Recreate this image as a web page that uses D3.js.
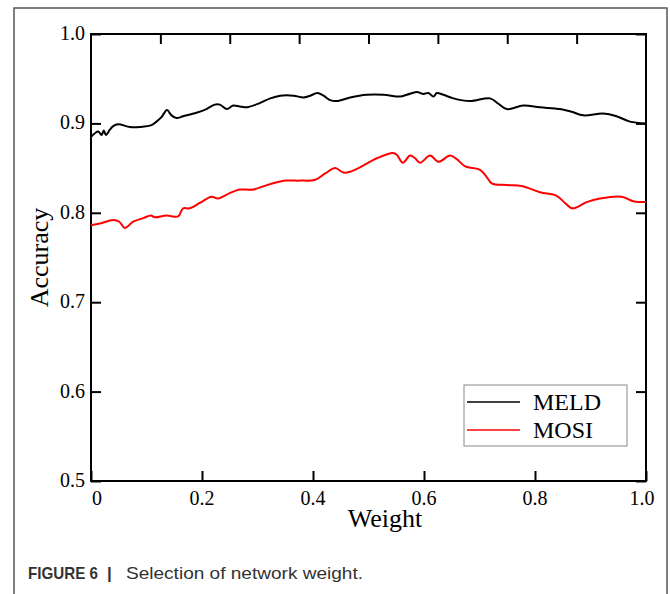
<!DOCTYPE html>
<html>
<head>
<meta charset="utf-8">
<script src="https://cdn.jsdelivr.net/npm/d3@7/dist/d3.min.js"></script>
<style>
  html, body { margin: 0; padding: 0; background: #fff; }
</style>
</head>
<body>
<div id="chart"></div>
<script>
"use strict";

// weights, accuracy per series
var meldWeight = [0.000, 0.013, 0.019, 0.023, 0.027, 0.034, 0.040, 0.049, 0.070, 0.088, 0.109, 0.118, 0.127, 0.137, 0.145, 0.154, 0.166, 0.190, 0.208, 0.223, 0.232, 0.245, 0.256, 0.268, 0.281, 0.305, 0.323, 0.341, 0.365, 0.383, 0.395, 0.408, 0.419, 0.431, 0.443, 0.467, 0.497, 0.527, 0.557, 0.569, 0.587, 0.599, 0.608, 0.617, 0.623, 0.635, 0.653, 0.683, 0.719, 0.734, 0.749, 0.779, 0.809, 0.845, 0.866, 0.887, 0.923, 0.947, 0.971, 1.000];
var meldAcc    = [0.885, 0.891, 0.887, 0.892, 0.887, 0.893, 0.897, 0.899, 0.896, 0.896, 0.898, 0.902, 0.907, 0.915, 0.909, 0.906, 0.908, 0.912, 0.916, 0.921, 0.921, 0.916, 0.920, 0.919, 0.918, 0.923, 0.928, 0.931, 0.931, 0.929, 0.931, 0.934, 0.931, 0.926, 0.925, 0.929, 0.932, 0.932, 0.930, 0.932, 0.935, 0.933, 0.934, 0.930, 0.934, 0.932, 0.928, 0.925, 0.928, 0.922, 0.916, 0.920, 0.918, 0.916, 0.913, 0.909, 0.911, 0.908, 0.902, 0.900];

var mosiWeight = [0.000, 0.016, 0.040, 0.051, 0.061, 0.076, 0.094, 0.108, 0.115, 0.136, 0.157, 0.166, 0.178, 0.196, 0.217, 0.229, 0.250, 0.268, 0.292, 0.317, 0.341, 0.353, 0.377, 0.404, 0.422, 0.440, 0.455, 0.467, 0.491, 0.515, 0.544, 0.551, 0.562, 0.575, 0.584, 0.593, 0.611, 0.626, 0.647, 0.659, 0.674, 0.701, 0.713, 0.722, 0.749, 0.776, 0.809, 0.839, 0.854, 0.868, 0.893, 0.917, 0.956, 0.977, 1.000];
var mosiAcc    = [0.786, 0.788, 0.792, 0.790, 0.783, 0.790, 0.794, 0.797, 0.795, 0.797, 0.796, 0.805, 0.805, 0.811, 0.818, 0.816, 0.822, 0.826, 0.826, 0.831, 0.835, 0.836, 0.836, 0.837, 0.844, 0.850, 0.845, 0.846, 0.853, 0.861, 0.867, 0.865, 0.856, 0.864, 0.861, 0.856, 0.864, 0.857, 0.864, 0.860, 0.852, 0.848, 0.840, 0.833, 0.831, 0.830, 0.823, 0.819, 0.811, 0.805, 0.812, 0.816, 0.818, 0.813, 0.812];

var seriesNames  = ["MELD", "MOSI"];
var seriesColors = ["#000000", "#ff0000"];
var xTicks = [0, 0.2, 0.4, 0.6, 0.8, 1.0];
var xTickLabels = ["0", "0.2", "0.4", "0.6", "0.8", "1.0"];
var xTopTicks = [0.125, 0.25, 0.375, 0.5, 0.625, 0.75, 0.875];
var yTicks = [0.5, 0.6, 0.7, 0.8, 0.9, 1.0];

(function(){

var width = 670, height = 594;
var pLeft = 91, pRight = 646, pTop = 34, pBottom = 481;
var serif = "'Liberation Serif', 'Times New Roman', serif";

var svg = d3.select("#chart")
			.append("svg")
			.attr("width", width)
			.attr("height", height);

// outer figure frame (bottom edge runs off the page)
svg.append("path")
	.attr("d", "M14,600 V8 H667 V600")
	.style("fill", "none")
	.style("stroke", "#555")
	.style("stroke-width", 1.5);

var x = d3.scaleLinear().domain([0, 1]).range([pLeft, pRight]);
var y = d3.scaleLinear().domain([0.5, 1.0]).range([pBottom, pTop]);

// axes with inward ticks
var tickLen = 10;

svg.append("g")
	.attr("transform", "translate(0," + pBottom + ")")
	.call(d3.axisTop(x).tickValues(xTicks).tickSize(tickLen).tickFormat(""))
	.call(function(g){ g.select(".domain").remove(); });

svg.append("g")
	.attr("transform", "translate(0," + pTop + ")")
	.call(d3.axisBottom(x).tickValues(xTopTicks).tickSize(tickLen).tickFormat(""))
	.call(function(g){ g.select(".domain").remove(); });

svg.append("g")
	.attr("transform", "translate(" + pLeft + ",0)")
	.call(d3.axisRight(y).tickValues(yTicks).tickSize(tickLen).tickFormat(""))
	.call(function(g){ g.select(".domain").remove(); });

svg.append("g")
	.attr("transform", "translate(" + pRight + ",0)")
	.call(d3.axisLeft(y).tickValues(yTicks).tickSize(tickLen).tickFormat(""))
	.call(function(g){ g.select(".domain").remove(); });

svg.selectAll(".tick line")
	.style("stroke", "#000")
	.style("stroke-width", 2);

svg.append("rect")
	.attr("x", pLeft)
	.attr("y", pTop)
	.attr("width", pRight - pLeft)
	.attr("height", pBottom - pTop)
	.style("fill", "none")
	.style("stroke", "#000")
	.style("stroke-width", 2);

// tick labels
svg.selectAll("text.xlab")
	.data(xTicks)
	.enter()
	.append("text")
	.attr("class", "xlab")
	.attr("x", function(d){ return x(d); })
	.attr("y", pBottom + 24)
	.attr("text-anchor", "middle")
	.attr("dx", function(d,i){ return i === 0 ? 6 : (i === xTicks.length-1 ? -4 : 0); })
	.style("font-family", serif)
	.style("font-size", "20px")
	.text(function(d,i){ return xTickLabels[i]; });

svg.selectAll("text.ylab")
	.data(yTicks)
	.enter()
	.append("text")
	.attr("class", "ylab")
	.attr("x", pLeft - 6)
	.attr("y", function(d){ return y(d); })
	.attr("dy", "0.3em")
	.attr("text-anchor", "end")
	.style("font-family", serif)
	.style("font-size", "20px")
	.text(function(d){ return d3.format(".1f")(d); });

// axis titles
svg.append("text")
	.attr("x", 385)
	.attr("y", pBottom + 46)
	.attr("text-anchor", "middle")
	.style("font-family", serif)
	.style("font-size", "26px")
	.text("Weight");

svg.append("text")
	.attr("transform", "translate(48," + (pTop + pBottom)/2 + ") rotate(-90)")
	.attr("text-anchor", "middle")
	.style("font-family", serif)
	.style("font-size", "26px")
	.text("Accuracy");

// series
var series = [
	{name: seriesNames[0], color: seriesColors[0], w: meldWeight, v: meldAcc},
	{name: seriesNames[1], color: seriesColors[1], w: mosiWeight, v: mosiAcc}
];

var line = d3.line()
	.x(function(d){ return x(d[0]); })
	.y(function(d){ return y(d[1]); })
	.curve(d3.curveCatmullRom.alpha(0.5));

svg.selectAll("path.series")
	.data(series)
	.enter()
	.append("path")
	.attr("class", "series")
	.attr("d", function(s){ return line(d3.zip(s.w, s.v)); })
	.style("fill", "none")
	.style("stroke", function(s){ return s.color; })
	.style("stroke-width", 2);

// legend
var legend = svg.append("g").attr("transform", "translate(464,385)");

legend.append("rect")
	.attr("width", 163)
	.attr("height", 61)
	.style("fill", "#fff")
	.style("stroke", "#888")
	.style("stroke-width", 1);

var item = legend.selectAll("g.item")
	.data(series)
	.enter()
	.append("g")
	.attr("class", "item")
	.attr("transform", function(d,i){ return "translate(0," + (17 + i*28) + ")"; });

item.append("line")
	.attr("x1", 3)
	.attr("x2", 56)
	.style("stroke", function(d){ return d.color; })
	.style("stroke-width", 1.5);

item.append("text")
	.attr("x", 69)
	.attr("dy", "0.33em")
	.style("font-family", serif)
	.style("font-size", "24px")
	.text(function(d){ return d.name; });

// caption
var cap = svg.append("text")
	.attr("y", 579)
	.style("font-family", "'Liberation Sans', Arial, sans-serif")
	.style("font-size", "17px")
	.style("fill", "#333");

cap.append("tspan")
	.attr("x", 28)
	.attr("textLength", 70)
	.attr("lengthAdjust", "spacingAndGlyphs")
	.style("font-weight", "bold")
	.text("FIGURE 6");
cap.append("tspan")
	.attr("x", 107)
	.style("font-weight", "bold")
	.text("|");
cap.append("tspan")
	.attr("x", 126)
	.attr("textLength", 237)
	.attr("lengthAdjust", "spacingAndGlyphs")
	.text("Selection of network weight.");

})();
</script>
</body>
</html>
